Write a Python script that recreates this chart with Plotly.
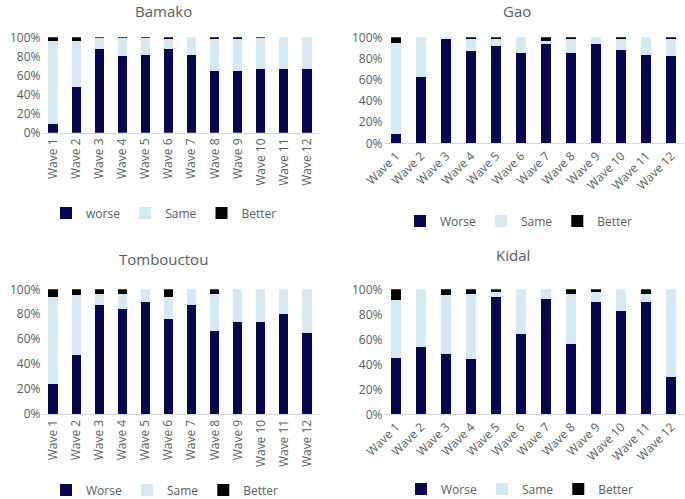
import plotly.graph_objects as go

waves = [f"Wave {i}" for i in range(1, 13)]

bamako_worse = [9, 47.5, 88, 80, 81.5, 87.4, 81.5, 64.7, 64.7, 66.4, 66.4, 66.4]
bamako_same = [87, 48.5, 11, 19.5, 17.5, 11.2, 18.5, 33.3, 33.3, 32.9, 33.6, 33.6]
bamako_better = [4, 4, 1, 0.5, 1, 1.4, 0, 2, 2, 0.7, 0, 0]

gao_worse = [9, 63, 99, 87, 91.5, 85.5, 93.7, 85, 93.7, 88, 83.3, 82.4]
gao_same = [86, 37, 1, 11.7, 7.2, 14.5, 2.5, 13, 6.3, 10, 16.7, 16.3]
gao_better = [5, 0, 0, 1.3, 1.3, 0, 3.8, 2, 0, 2, 0, 1.3]

tomb_worse = [24, 47.6, 87.4, 84.2, 90, 76.5, 87.4, 66.3, 74, 74, 80.5, 65]
tomb_same = [69.6, 47.6, 8.9, 12.1, 10, 17.1, 12.6, 30.2, 26, 26, 19.5, 35]
tomb_better = [6.4, 4.8, 3.7, 3.7, 0, 6.4, 0, 3.5, 0, 0, 0, 0]

kidal_worse = [44.8, 54, 48.5, 44, 93.9, 64.3, 92, 56, 90, 82.7, 90, 30]
kidal_same = [46.9, 46, 47.2, 52.5, 4.2, 35.7, 8, 40.5, 8.1, 17.3, 6.5, 70]
kidal_better = [8.3, 0, 4.3, 3.5, 1.9, 0, 0, 3.5, 1.9, 0, 3.5, 0]

series_names = {
    "Bamako": ["worse", "Same", "Better"],
    "Gao": ["Worse", "Same", "Better"],
    "Tombouctou": ["Worse", "Same", "Better"],
    "Kidal": ["Worse", "Same", "Better"],
}

W, H = 685, 499
C_WORSE = "#07074f"
C_SAME = "#d3e9f3"
C_BETTER = "#050505"
TXT = "#56605f"
FONT = "Open Sans"

def px(x):
    return x / W

def py(y):
    return 1 - y / H

panels = [
    ("Bamako", (bamako_worse, bamako_same, bamako_better), 1, (41.5, 318.5), (132.7, 37.3), -90, (163, 11), (164, 213)),
    ("Gao", (gao_worse, gao_same, gao_better), 2, (383.5, 684), (143.3, 37.3), -45, (517, 11), (519, 221)),
    ("Tombouctou", (tomb_worse, tomb_same, tomb_better), 3, (41.5, 318.5), (414, 289.3), -90, (163, 259), (165, 490)),
    ("Kidal", (kidal_worse, kidal_same, kidal_better), 4, (383.5, 684), (414.3, 289.3), -45, (513, 255), (520, 489)),
]

fig = go.Figure()
layout = dict(
    width=W, height=H,
    margin=dict(l=0, r=0, t=0, b=0, autoexpand=False),
    plot_bgcolor="white", paper_bgcolor="white",
    barmode="stack",
    bargap=0.6,
    font=dict(family=FONT, color=TXT, size=12),
    annotations=[],
)

for name, data, idx, xd, yd, angle, tpos, lpos in panels:
    suffix = "" if idx == 1 else str(idx)
    xa = "x" + suffix
    ya = "y" + suffix
    leg = "legend" + suffix
    names = series_names[name]
    for vals, nm, col in zip(data, names, [C_WORSE, C_SAME, C_BETTER]):
        fig.add_trace(go.Bar(
            x=waves, y=[v / 100 for v in vals], name=nm,
            marker=dict(color=col, line=dict(width=0)),
            xaxis=xa, yaxis=ya, legend=leg, showlegend=True,
            hovertemplate="%{x}: %{y:.0%}<extra>" + nm + "</extra>",
        ))
    layout["xaxis" + suffix] = dict(
        domain=[px(xd[0]), px(xd[1])], anchor=ya, automargin=False,
        showline=True, linecolor="#d9d9d9", linewidth=1,
        ticks="", tickangle=angle, tickfont=dict(size=12, color=TXT),
        showgrid=False, range=[-0.5, 11.5], fixedrange=True,
    )
    layout["yaxis" + suffix] = dict(
        domain=[py(yd[0]), py(yd[1])], anchor=xa, automargin=False,
        range=[0, 1], tickvals=[0, 0.2, 0.4, 0.6, 0.8, 1.0],
        tickformat=".0%", showgrid=False, showline=False, zeroline=False,
        tickfont=dict(size=12, color=TXT), ticks="", ticklen=0,
    )
    layout[leg] = dict(
        orientation="h", x=px(lpos[0]), y=py(lpos[1]),
        xanchor="center", yanchor="middle", traceorder="normal",
        font=dict(size=12, color=TXT), bgcolor="rgba(0,0,0,0)",
        itemwidth=30, tracegroupgap=0,
    )
    layout["annotations"].append(dict(
        text=name, x=px(tpos[0]), y=py(tpos[1]), xref="paper", yref="paper",
        xanchor="center", yanchor="middle", showarrow=False,
        font=dict(size=15, color=TXT, family=FONT),
    ))

fig.update_layout(**layout)
fig.write_html(
    "out.html",
    config={"displayModeBar": False},
    post_script="document.body.style.margin='0px';document.body.style.padding='0px';",
)
